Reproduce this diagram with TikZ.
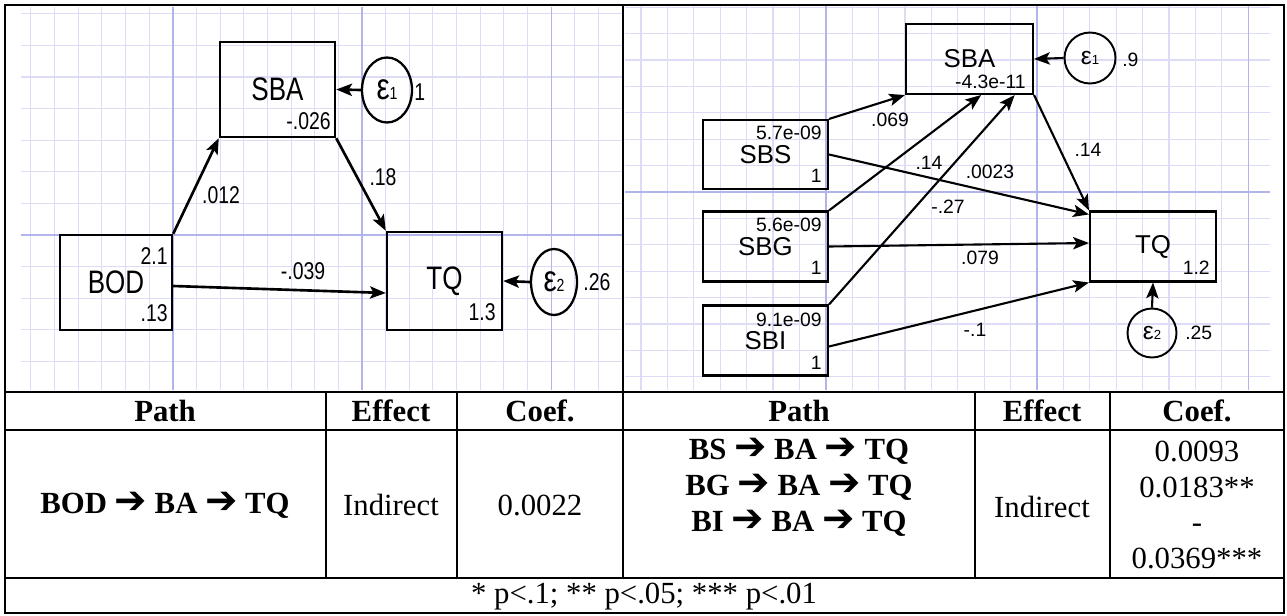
\documentclass[tikz,border=0pt]{standalone}
\usepackage{fontspec}
\usepackage{graphicx}
\setmainfont{Liberation Serif}
\newfontfamily\semfont{Liberation Sans}
\newfontfamily\arrfont{DejaVu Sans}
\usetikzlibrary{arrows.meta,shapes.geometric,calc}
\definecolor{gridminor}{HTML}{DCDCF7}
\definecolor{gridmajor}{HTML}{B4B4EC}
\newcommand{\sqz}[1]{\scalebox{0.8}[1]{#1}}
\newcommand{\thru}{{\arrfont\bfseries\fontsize{22}{20}\selectfont ➔}}

\begin{document}
\begin{tikzpicture}[
      x=0.02cm, y=-0.02cm,
      gridmin/.style={draw=gridminor, line width=0.6pt},
      gridmaj/.style={draw=gridmajor, line width=0.8pt},
      boxL/.style={draw, line width=1.4pt, minimum width=2.3cm, minimum height=1.9cm,
                   inner sep=0pt, font=\semfont\fontsize{18.5}{20}\selectfont},
      boxR/.style={draw, line width=1.2pt, minimum width=2.52cm, minimum height=1.4cm,
                   inner sep=0pt, font=\semfont\fontsize{14.7}{16}\selectfont},
      errL/.style={draw, ellipse, line width=1.3pt, minimum width=1.0cm, minimum height=1.3cm,
                   inner sep=0pt, font=\semfont\fontsize{21}{21}\selectfont},
      errR/.style={draw, circle, line width=1.1pt, minimum size=1.02cm,
                   inner sep=0pt, font=\semfont\fontsize{14}{14}\selectfont},
      numL/.style={font=\semfont\fontsize{13.8}{14}\selectfont, inner sep=0pt},
      numR/.style={font=\semfont\fontsize{11}{12}\selectfont, inner sep=0pt},
      path/.style={-{Stealth[length=9pt, width=7pt, inset=2pt]}, line width=1.2pt},
      pathL/.style={path, line width=1.5pt},
      rule/.style={line width=1.1pt},
      cell/.style={font=\fontsize{17.5}{20.4}\selectfont, align=center, inner sep=0pt},
      head/.style={font=\fontsize{17.5}{20.4}\selectfont\bfseries, align=center, inner sep=0pt}
    ]
    \useasboundingbox (0,0) rectangle (1287,615);

    % grid, left model
    \foreach \k in {-14,...,11}
      \draw[gridmin] ({362+23.65*\k},7) -- ({362+23.65*\k},390);
    \foreach \k in {-7,...,4}
      \draw[gridmin] (21,{235+31.6*\k}) -- (622,{235+31.6*\k});
    \foreach \gx in {172.8,362,551.2}
      \draw[gridmaj] (\gx,7) -- (\gx,390);
    \draw[gridmaj] (21,235) -- (622,235);

    % grid, right model
    \foreach \k in {-15,...,8}
      \draw[gridmin] ({1037+26.4*\k},6) -- ({1037+26.4*\k},390);
    \foreach \k in {-7,...,7}
      \draw[gridmin] (625,{192+26.4*\k}) -- (1270,{192+26.4*\k});
    \foreach \gx in {825.8,1037,1248.2}
      \draw[gridmaj] (\gx,6) -- (\gx,390);
    \draw[gridmaj] (625,192) -- (1270,192);

    % table rules
    \draw[rule] (5,5) rectangle (1284,613);
    \draw[rule] (5,392) -- (1284,392);
    \draw[rule] (5,430) -- (1284,430);
    \draw[rule] (5,578) -- (1284,578);
    \draw[rule] (623,5) -- (623,578);
    \draw[rule] (326,392) -- (326,578);
    \draw[rule] (457,392) -- (457,578);
    \draw[rule] (975,392) -- (975,578);
    \draw[rule] (1110,392) -- (1110,578);

    % left model
    \node[boxL] (sbaL) at (277.5,89.5) {\sqz{SBA}};
    \node[boxL, minimum width=2.24cm] (bod) at (116,282.5) {\sqz{BOD}};
    \node[boxL, minimum height=1.96cm] (tqL) at (444.5,281) {\sqz{TQ}};
    \node[errL] (e1L) at (387,90) {\sqz{ε{\fontsize{10}{10}\selectfont 1}}};
    \node[errL, minimum width=0.92cm, minimum height=1.32cm] (e2L) at (554,282) {\sqz{ε{\fontsize{10}{10}\selectfont 2}}};

    \node[numL, anchor=east] (sbaLc) at (331,121) {\sqz{-.026}};
    \node[numL, anchor=east] (bodm) at (168,256) {\sqz{2.1}};
    \node[numL, anchor=east] (bodv) at (168,313) {\sqz{.13}};
    \node[numL, anchor=east] (tqLc) at (496,312) {\sqz{1.3}};
    \node[numL, anchor=west] (e1Lv) at (414,92) {\sqz{1}};
    \node[numL, anchor=west] (e2Lv) at (583,282) {\sqz{.26}};

    \draw[pathL] (bod.north east) -- (sbaL.south west);
    \draw[pathL] (sbaL.south east) -- (tqL.north west);
    \draw[pathL] ([yshift=-0.07cm]bod.east) -- ([yshift=-0.24cm]tqL.west);
    \draw[pathL] (e1L.west) -- (sbaL.east);
    \draw[pathL] (e2L.west) -- (tqL.east);
    \node[numL] (kBS) at (221,195) {\sqz{.012}};
    \node[numL] (kST) at (383,177) {\sqz{.18}};
    \node[numL] (kBT) at (303,271) {\sqz{-.039}};

    % right model
    \node[boxR, minimum width=2.54cm] (sbaR) at (969.5,59) {SBA};
    \node[boxR, minimum width=2.5cm, minimum height=1.38cm] (sbs) at (765.5,154.5) {SBS};
    \node[boxR, minimum width=2.5cm] (sbg) at (765.5,246.5) {SBG};
    \node[boxR, minimum width=2.5cm] (sbi) at (765.5,340.5) {SBI};
    \node[boxR] (tqR) at (1153,246.5) {TQ};
    \node[errR] (e1R) at (1090,58) {ε{\fontsize{7.5}{8}\selectfont 1}};
    \node[errR, minimum size=0.98cm] (e2R) at (1152,333) {ε{\fontsize{7.5}{8}\selectfont 2}};

    \node[numR, anchor=east] (sbaRc) at (1026,82) {-4.3e-11};
    \node[numR, anchor=east] (sbsm) at (822,133) {5.7e-09};
    \node[numR, anchor=east] (sbsv) at (822,176) {1};
    \node[numR, anchor=east] (sbgm) at (822,225) {5.6e-09};
    \node[numR, anchor=east] (sbgv) at (822,268) {1};
    \node[numR, anchor=east] (sbim) at (822,320) {9.1e-09};
    \node[numR, anchor=east] (sbiv) at (822,363) {1};
    \node[numR, anchor=east] (tqRc) at (1210,268) {1.2};
    \node[numR, anchor=west] (e1Rv) at (1122,60) {.9};
    \node[numR, anchor=west] (e2Rv) at (1185,333) {.25};

    \draw[path] (sbs.north east) -- (sbaR.south west);
    \draw[path] (sbg.north east) -- ($(sbaR.south west)!0.59!(sbaR.south east)$);
    \draw[path] (sbi.north east) -- ($(sbaR.south west)!0.85!(sbaR.south east)$);
    \draw[path] (sbaR.south east) -- (tqR.north west);
    \draw[path] (sbs.east) -- ([yshift=-0.08cm]tqR.north west);
    \draw[path] (sbg.east) -- ([yshift=0.07cm]tqR.west);
    \draw[path] ([yshift=-0.12cm]sbi.east) -- (tqR.south west);
    \draw[path] (e1R.west) -- (sbaR.east);
    \draw[path] (e2R.north) -- (tqR.south);
    \node[numR] (kSA) at (890,120) {.069};
    \node[numR] (kGA) at (929,163) {.14};
    \node[numR] (kST2) at (990,172) {.0023};
    \node[numR] (kIA) at (948,207) {-.27};
    \node[numR] (kAT) at (1088,150) {.14};
    \node[numR] (kGT) at (980,258) {.079};
    \node[numR] (kIT) at (975,330) {-.1};

    % table text
    \node[head] (hPathL) at (165,411) {Path};
    \node[head] (hEffL) at (391,411) {Effect};
    \node[head] (hCoefL) at (540,411) {Coef.};
    \node[head] (hPathR) at (799,411) {Path};
    \node[head] (hEffR) at (1042,411) {Effect};
    \node[head] (hCoefR) at (1197,411) {Coef.};

    \node[head] (pathL) at (165,505) {BOD \thru{} BA \thru{} TQ};
    \node[cell] (effL) at (391,505) {Indirect};
    \node[cell] (coefL) at (540,505) {0.0022};
    \node[head] (pathR) at (799,487) {BS \thru{} BA \thru{} TQ\\BG \thru{} BA \thru{} TQ\\BI \thru{} BA \thru{} TQ};
    \node[cell] (effR) at (1042,507) {Indirect};
    \node[cell] (coefR) at (1197,505) {0.0093\\0.0183**\\-\\0.0369***};

    \node[cell] (note) at (644,597) {* p<.1; ** p<.05; *** p<.01};
  \end{tikzpicture}
\end{document}
